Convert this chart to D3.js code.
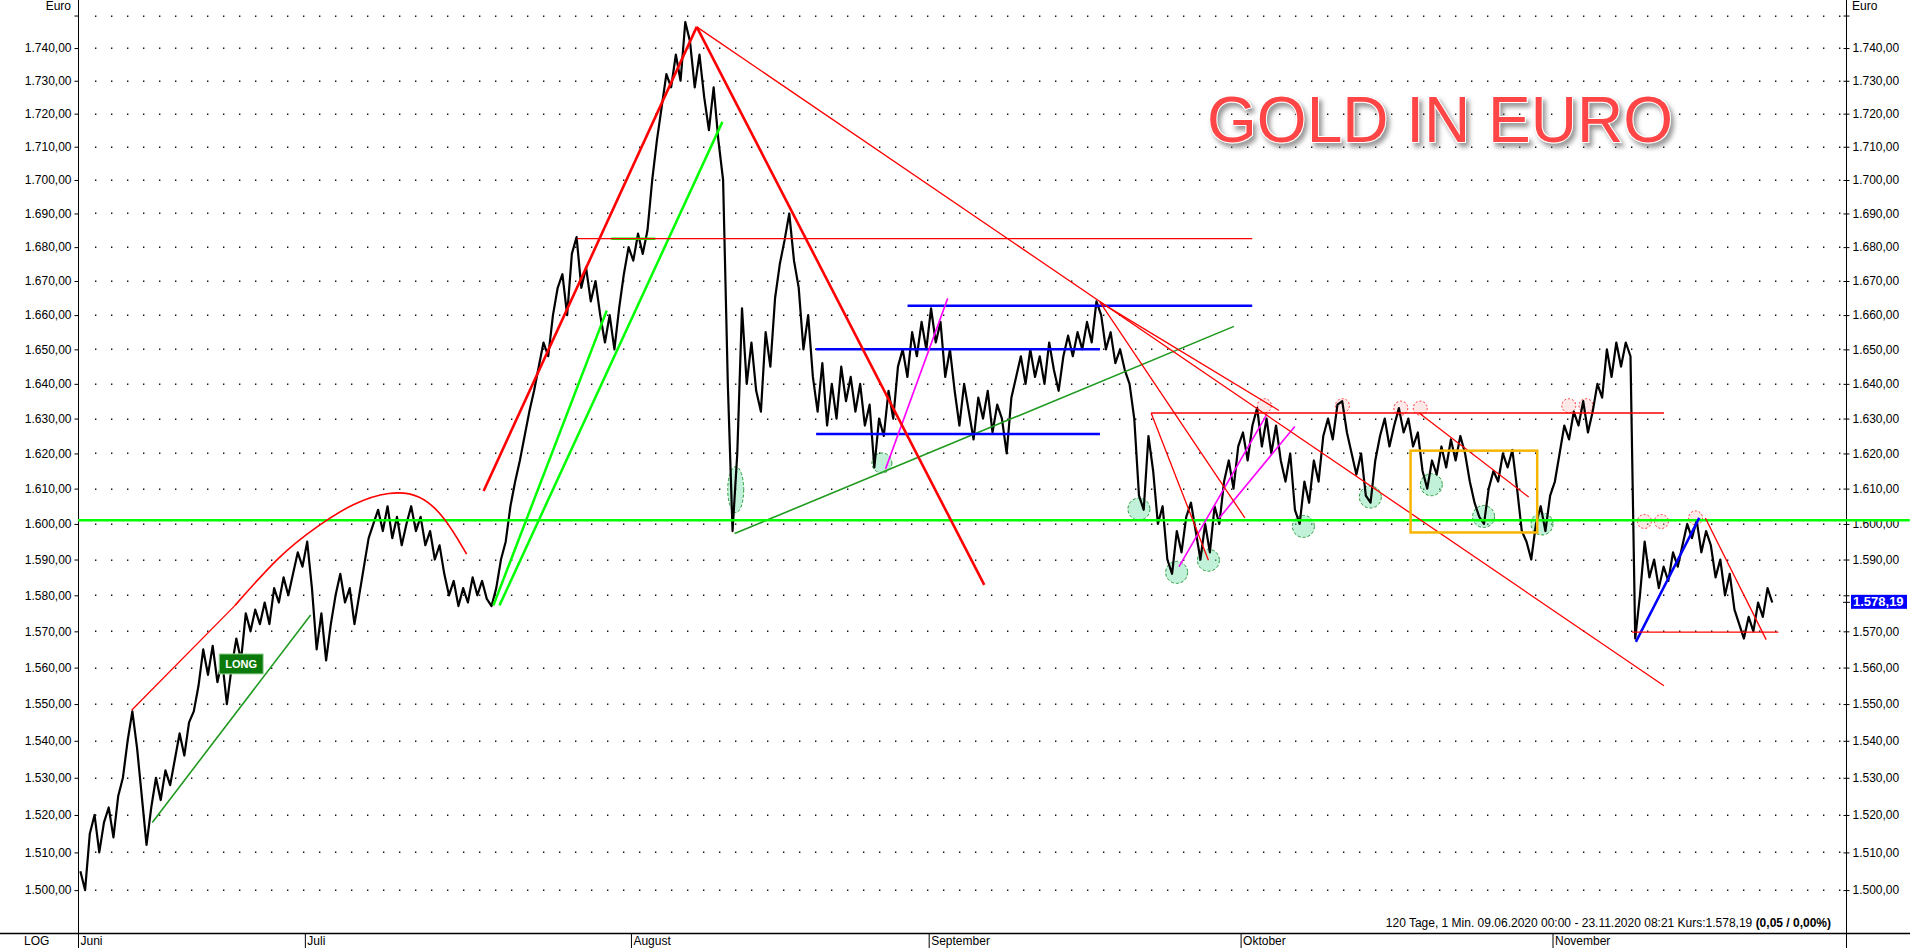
<!DOCTYPE html>
<html><head><meta charset="utf-8">
<script src="https://cdn.jsdelivr.net/npm/d3@7"></script>
<style>html,body{margin:0;padding:0;background:#fff;overflow:hidden}svg{display:block;font-family:"Liberation Sans",Arial,sans-serif}</style>
</head><body><svg id="c" width="1910" height="948"></svg>
<script>
// ---------- data ----------
const yTickValues = [1500,1510,1520,1530,1540,1550,1560,1570,1580,1590,1600,1610,1620,1630,1640,1650,1660,1670,1680,1690,1700,1710,1720,1730,1740,1750];
const monthLabels = ["Juni","Juli","August","September","Oktober","November"];
const monthStartDay = [0,16,39,60,82,104];
// price path, 3 readings per trading day (day index 0 = 09.06.2020)
const price = [
1505,1500,1515, 1520,1510,1518, 1522,1514,1525, 1530,1540,1548, 1538,1525,1512,
1522,1530,1524, 1532,1528,1535, 1542,1536,1545, 1548,1555,1565, 1558,1566,1556,
1562,1550,1560, 1568,1562,1575, 1570,1576,1572, 1578,1572,1582, 1578,1585,1580,
1586,1592,1588, 1595,1582,1565, 1575,1562,1572, 1580,1586,1578, 1582,1572,1580,
1588,1596,1600, 1604,1598,1605, 1596,1602,1594, 1600,1605,1598, 1602,1594,1598,
1590,1594,1586, 1580,1584,1577, 1582,1578,1585, 1580,1584,1579, 1577,1582,1590,
1595,1605,1612, 1618,1625,1632, 1638,1645,1652, 1648,1660,1668, 1672,1660,1678,
1683,1668,1674, 1664,1670,1660, 1652,1660,1650, 1662,1672,1680, 1676,1684,1678,
1685,1700,1712, 1722,1732,1728, 1738,1730,1748, 1742,1728,1738, 1725,1715,1728,
1712,1700,1640, 1598,1620,1662, 1640,1652,1638, 1632,1655,1645, 1665,1675,1682,
1690,1676,1668, 1650,1660,1642, 1632,1646,1628, 1640,1630,1645, 1635,1642,1632,
1640,1628,1634, 1616,1630,1625, 1638,1630,1645, 1650,1642,1655, 1648,1658,1650,
1662,1652,1658, 1642,1650,1638, 1628,1640,1632, 1624,1636,1630, 1638,1626,1634,
1630,1620,1636, 1642,1648,1640, 1650,1642,1648, 1640,1652,1644, 1638,1648,1654,
1648,1655,1650, 1658,1652,1664, 1660,1650,1655, 1646,1650,1644, 1640,1630,1608,
1604,1625,1615, 1600,1605,1590, 1586,1598,1592, 1602,1606,1598, 1590,1600,1592,
1605,1600,1612, 1618,1610,1622, 1626,1618,1628, 1633,1622,1630, 1620,1628,1618,
1612,1620,1604, 1600,1612,1606, 1618,1612,1625, 1630,1624,1634, 1635,1626,1620,
1614,1620,1608, 1606,1618,1625, 1630,1622,1628, 1633,1626,1630, 1622,1626,1615,
1610,1618,1614, 1622,1616,1624, 1618,1625,1620, 1612,1606,1602, 1600,1610,1615,
1612,1620,1616, 1621,1610,1598, 1595,1590,1600, 1605,1598,1608, 1612,1620,1628,
1624,1632,1628, 1635,1626,1632, 1640,1636,1650, 1642,1652,1645, 1652,1648,1568,
1580,1595,1585, 1590,1582,1588, 1584,1592,1588, 1594,1600,1596, 1601,1592,1598,
1594,1585,1590, 1580,1586,1576, 1572,1568,1574, 1570,1578,1574, 1582,1578
];
const lastPrice = 1578.19;
const lastPriceLabel = "1.578,19";
const infoText = "120 Tage, 1 Min. 09.06.2020 00:00 - 23.11.2020 08:21 Kurs:1.578,19 ";
const infoBold = "(0,05 / 0,00%)";
const titleText = "GOLD IN EURO";

// annotations: [day, value] pairs
const redThick = [
  [[28.61,1609.3],[43.64,1746.5]],
  [[43.64,1746.5],[63.92,1582.9]]
];
const redThin = [
  [[3.78,1548.3],[11.08,1577.2]],
  [[43.64,1746.5],[111.86,1555.0]],
  [[35.22,1682.5],[82.82,1682.5]],
  [[75.69,1631.6],[111.86,1631.6]],
  [[72.08,1663.8],[84.71,1632.3]],
  [[72.08,1663.8],[82.3,1601.7]],
  [[75.69,1631.6],[79.73,1589.8]],
  [[94.59,1631.6],[102.32,1607.6]],
  [[114.78,1601.7],[119.07,1567.7]],
  [[109.62,1569.8],[119.93,1569.8]]
];
const redArc = [[11.08,1577.2],[14.26,1591.5],[16.84,1599.3],[19.42,1606.0],[21.99,1609.3],[24.14,1608.5],[25.86,1602.1],[27.41,1591.5]];
const greenBright = [
  [[0,1601.05],[129.2,1601.05]],
  [[29.30,1577.2],[37.29,1661.3]],
  [[29.73,1577.2],[45.45,1717.5]],
  [[37.6,1682.5],[40.72,1682.5]]
];
const greenDark = [
  [[5.24,1518.0],[16.41,1574.5]],
  [[46.31,1597.3],[81.53,1656.7]]
];
const blueLines = [
  [[52.06,1650.0],[72.08,1650.0]],
  [[52.06,1625.6],[72.08,1625.6]],
  [[58.51,1662.7],[82.82,1662.7]],
  [[109.88,1567.1],[114.35,1601.7]]
];
const magentaLines = [
  [[56.96,1615.6],[61.34,1664.9]],
  [[77.66,1588.0],[83.85,1631.2]],
  [[80.5,1601.7],[85.82,1627.7]]
];
const orangeBox = [[93.99,1620.8],[102.92,1597.6]];
const greenCircles = [[46.39,1609.7,8,23],[56.70,1617.3,10,10],[74.83,1604.2,11,11],[77.49,1586.4,11,11],[79.73,1589.8,11,11],[86.43,1599.3,11,11],[91.15,1607.6,11,11],[95.45,1611.1,11,11],[99.14,1602.1,11,11],[103.26,1600.0,11,11]];
const redCircles = [[83.68,1633.7],[89.18,1633.7],[93.30,1633.0],[94.67,1633.0],[105.15,1633.7],[106.36,1633.7],[110.48,1600.7],[111.68,1600.7],[114.09,1601.7]];
const longLabel = {day:11.51, value:1561, text:"LONG"};

// ---------- drawing ----------
const W = 1910, H = 948;
const left = 78, right = 1846, bottom = 933;
const svg = d3.select("#c");
const x = d3.scaleLinear().domain([0,124.7]).range([left,right]);
const y = d3.scaleLog().domain([1488.7,1754.8]).range([bottom,0]);
const fmt = v => d3.format(",.2f")(v).replace(/,/g,"#").replace(".",",").replace(/#/g,".");

const defs = svg.append("defs");
defs.append("clipPath").attr("id","plot").append("rect").attr("x",left).attr("y",0).attr("width",right-left).attr("height",bottom);
const f = defs.append("filter").attr("id","shadow").attr("x","-10%").attr("y","-30%").attr("width","130%").attr("height","170%");
f.append("feDropShadow").attr("dx",3).attr("dy",4).attr("stdDeviation",2.5).attr("flood-color","#777").attr("flood-opacity",0.8);

// dotted grid
const gridX = d3.range(left+17, right, 16);
const gdots = svg.append("g");
yTickValues.forEach(v => {
  gdots.selectAll(null).data(gridX).enter().append("rect")
    .attr("x", d => d).attr("y", Math.round(y(v))-0.5).attr("width",1.4).attr("height",1.4).attr("fill","#000");
});

// axes lines
svg.append("line").attr("x1",left+0.5).attr("x2",left+0.5).attr("y1",0).attr("y2",H).attr("stroke","#000");
svg.append("line").attr("x1",right+0.5).attr("x2",right+0.5).attr("y1",0).attr("y2",H).attr("stroke","#000");
svg.append("line").attr("x1",0).attr("x2",W).attr("y1",bottom+0.5).attr("y2",bottom+0.5).attr("stroke","#000").attr("stroke-width",1.5);

const yl = d3.axisLeft(y).tickValues(yTickValues).tickSize(4).tickPadding(3).tickFormat(v => v===1750 ? "" : fmt(v));
const gl = svg.append("g").attr("transform",`translate(${left+0.5},0)`).call(yl);
const yr = d3.axisRight(y).tickValues(yTickValues).tickSize(3).tickPadding(3).tickFormat(v => v===1750 ? "" : fmt(v));
const gr = svg.append("g").attr("transform",`translate(${right+0.5},0)`).call(yr);
[gl,gr].forEach(g => { g.select(".domain").remove(); g.selectAll("text").attr("font-size",12).attr("fill","#000").attr("font-family","Liberation Sans, Arial"); g.selectAll("line").attr("stroke","#000"); });
gr.selectAll(".tick line").attr("x1",-3);

svg.append("text").attr("x",71).attr("y",10).attr("text-anchor","end").attr("font-size",12).text("Euro");
svg.append("text").attr("x",1852).attr("y",10).attr("font-size",12).text("Euro");
svg.append("text").attr("x",24).attr("y",945).attr("font-size",12).text("LOG");

// month axis
const xa = d3.axisBottom(x).tickValues(monthStartDay).tickSize(15).tickFormat((d,i)=>monthLabels[i]);
const gx = svg.append("g").attr("transform",`translate(0,${bottom})`).call(xa);
gx.select(".domain").remove();
gx.selectAll(".tick line").attr("stroke","#000");
gx.selectAll(".tick text").attr("text-anchor","start").attr("x",2).attr("y",3).attr("dy","0.71em").attr("font-size",12).attr("fill","#000").attr("font-family","Liberation Sans, Arial");

// info text
const it = svg.append("text").attr("x",1831).attr("y",927).attr("text-anchor","end").attr("font-size",12);
it.append("tspan").text(infoText);
it.append("tspan").attr("font-weight","bold").text(infoBold);

// annotation helpers
const lineGen = d3.line().x(d=>x(d[0])).y(d=>y(d[1]));
function segs(data, color, width, dash){
  svg.append("g").selectAll("path").data(data).enter().append("path")
    .attr("d", lineGen).attr("fill","none").attr("stroke",color).attr("stroke-width",width)
    .attr("stroke-dasharray", dash||null);
}

// circles below price
svg.append("g").selectAll("ellipse").data(greenCircles).enter().append("ellipse")
  .attr("cx",d=>x(d[0])).attr("cy",d=>y(d[1])).attr("rx",d=>d[2]).attr("ry",d=>d[3])
  .attr("fill","rgba(120,225,170,0.45)").attr("stroke","#2a9a3a").attr("stroke-width",1).attr("stroke-dasharray","3,2");
svg.append("g").selectAll("circle").data(redCircles).enter().append("circle")
  .attr("cx",d=>x(d[0])).attr("cy",d=>y(d[1])).attr("r",7)
  .attr("fill","rgba(255,190,190,0.35)").attr("stroke","#ff3030").attr("stroke-width",1).attr("stroke-dasharray","2,2");

// price
const pLine = d3.line().x((d,i)=>x(i/3+1/6)).y(d=>y(d));
svg.append("path").datum(price).attr("clip-path","url(#plot)").attr("d",pLine)
  .attr("fill","none").attr("stroke","#000").attr("stroke-width",2.2).attr("stroke-linejoin","round");

// lines
segs(greenDark, "#1f9a1f", 1.6);
segs(greenBright, "#00ff00", 2.5);
segs(blueLines, "#0000ff", 2.5);
segs(magentaLines, "#ff00ff", 1.6);
segs(redThin, "#ff0000", 1.3);
segs(redThick, "#ff0000", 2.6);
svg.append("path").datum(redArc).attr("d", d3.line().x(d=>x(d[0])).y(d=>y(d[1])).curve(d3.curveBasis))
  .attr("fill","none").attr("stroke","#ff0000").attr("stroke-width",1.6);

// orange box
svg.append("rect").attr("x",x(orangeBox[0][0])).attr("y",y(orangeBox[0][1]))
  .attr("width",x(orangeBox[1][0])-x(orangeBox[0][0])).attr("height",y(orangeBox[1][1])-y(orangeBox[0][1]))
  .attr("fill","none").attr("stroke","#f7b500").attr("stroke-width",2.5);

// LONG label
const lg = svg.append("g").attr("transform",`translate(${x(longLabel.day)},${y(longLabel.value)})`);
lg.append("rect").attr("x",-22).attr("y",-10).attr("width",44).attr("height",20).attr("fill","#0b7a0b").attr("stroke","#9fd89f").attr("stroke-width",1);
lg.append("text").attr("text-anchor","middle").attr("dy","0.36em").attr("fill","#fff").attr("font-size",11).attr("font-weight","bold").text(longLabel.text);

// current price label (covers the neighbouring axis label as in the original)
const py = y(lastPrice);
gr.selectAll(".tick").filter(d => d===1580).select("text").attr("opacity",0);
svg.append("rect").attr("x",1851).attr("y",py-7).attr("width",56).attr("height",14).attr("fill","#0000ff");
svg.append("text").attr("x",1853).attr("y",py).attr("dy","0.36em").attr("fill","#fff").attr("font-size",13).attr("font-weight","bold").text(lastPriceLabel);
svg.append("line").attr("x1",right-3).attr("x2",right+4).attr("y1",py+0.5).attr("y2",py+0.5).attr("stroke","#000");

// title
svg.append("text").attr("x",1440).attr("y",142).attr("text-anchor","middle").attr("font-size",64)
  .attr("fill","#ff4545").attr("stroke","#fff").attr("stroke-width",2).attr("paint-order","stroke")
  .attr("filter","url(#shadow)").text(titleText);
</script></body></html>
